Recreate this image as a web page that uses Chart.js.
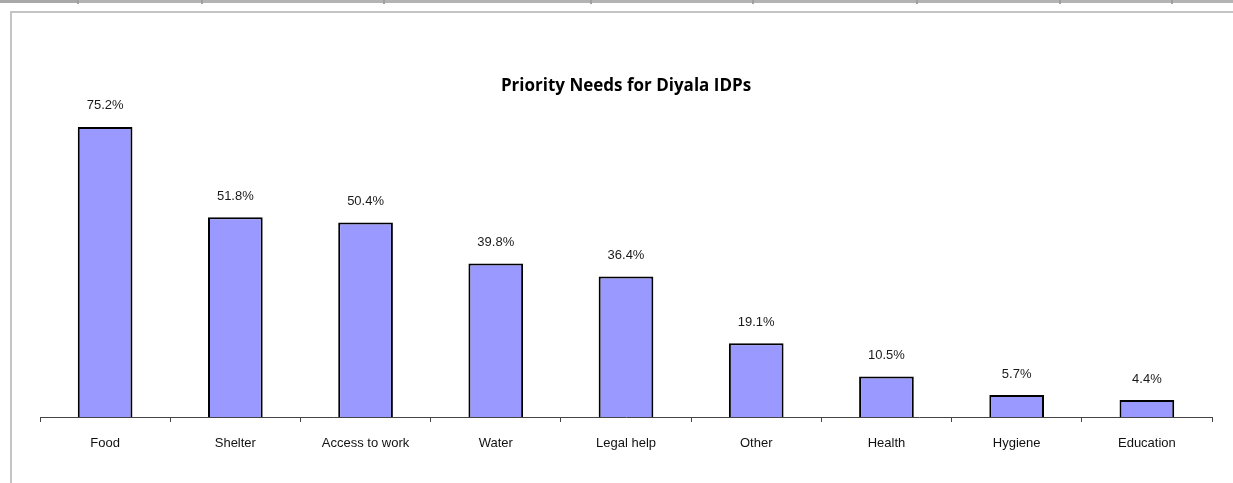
<!DOCTYPE html>
<html>
<head>
<meta charset="utf-8">
<script src="https://cdn.jsdelivr.net/npm/chart.js@4/dist/chart.umd.min.js"></script>
<style>
    html, body { margin: 0; padding: 0; background: #fff; }
    #page { position: relative; width: 1233px; height: 483px; overflow: hidden; background: #fff; }
    /* spreadsheet header strip */
    .hdr { position: absolute; top: 0; left: 0; width: 1233px; height: 3px; background: #b4b4b4; }
    .hdr-sel { position: absolute; top: 0; left: 0; width: 77px; height: 3px; background: #a8a8a8; }
    .sep { position: absolute; top: 0; width: 2px; height: 4px; background: #a0a0a0; }
    /* chart frame */
    #frame { position: absolute; left: 10px; top: 11px; width: 1240px; height: 500px;
             border-left: 2px solid #c4c4c4; border-top: 2px solid #c4c4c4; box-sizing: border-box; }
    #rankingChart { position: absolute; left: 0; top: 0; }
</style>
</head>
<body>
<div id="page">
    <div class="hdr"></div>
    <div class="hdr-sel"></div>
    <div class="sep" style="left:77px"></div>
    <div class="sep" style="left:201px"></div>
    <div class="sep" style="left:383px"></div>
    <div class="sep" style="left:590px"></div>
    <div class="sep" style="left:752px"></div>
    <div class="sep" style="left:916px"></div>
    <div class="sep" style="left:1059px"></div>
    <div class="sep" style="left:1171px"></div>
    <div id="frame"></div>
    <canvas id="rankingChart" width="1233" height="483"></canvas>
</div>
<script>
    // Dữ liệu biểu đồ
    var categories = ['Food', 'Shelter', 'Access to work', 'Water', 'Legal help', 'Other', 'Health', 'Hygiene', 'Education'];
    var needValues = [75.2, 51.8, 50.4, 39.8, 36.4, 19.1, 10.5, 5.7, 4.4];
    var chartTitle = 'Priority Needs for Diyala IDPs';

    // plugin nhỏ để vẽ nhãn giá trị trên mỗi cột
    var valueLabels = {
        id: 'valueLabels',
        afterDatasetsDraw: function (chart) {
            var ctx = chart.ctx;
            var meta = chart.getDatasetMeta(0);
            ctx.save();
            ctx.font = '13px "Liberation Sans", Arial, sans-serif';
            ctx.fillStyle = '#1a1a1a';
            ctx.textAlign = 'center';
            ctx.textBaseline = 'middle';
            meta.data.forEach(function (bar, i) {
                ctx.fillText(needValues[i].toFixed(1) + '%', bar.x, bar.y - 21);
            });
            ctx.restore();
        }
    };

    var canvas = document.getElementById('rankingChart');
    var ctx = canvas.getContext('2d');

    new Chart(ctx, {
        type: 'bar',
        data: {
            labels: categories,
            datasets: [{
                data: needValues,
                backgroundColor: '#9999ff',
                borderColor: '#000000',
                borderWidth: 2,
                barPercentage: 0.42,
                categoryPercentage: 1.0
            }]
        },
        options: {
            responsive: false,
            animation: false,
            layout: { padding: { left: 40, right: 21, top: 0, bottom: 26 } },
            plugins: {
                legend: { display: false },
                tooltip: { enabled: false },
                title: {
                    display: true,
                    text: chartTitle,
                    color: '#000',
                    font: { family: '"Open Sans", "Noto Sans", sans-serif', size: 17, weight: 'bold' },
                    padding: { top: 76, bottom: 12 }
                }
            },
            scales: {
                x: {
                    afterFit: function (scale) { scale.height = 40; },
                    border: { display: true, color: '#444444', width: 1 },
                    grid: { display: true, offset: true, drawOnChartArea: false, drawTicks: true, tickLength: 5, color: '#444444' },
                    ticks: { color: '#111', padding: 14, font: { family: '"Liberation Sans", Arial, sans-serif', size: 13 }, maxRotation: 0 }
                },
                y: {
                    display: false,
                    min: 0,
                    max: 80
                }
            }
        },
        plugins: [valueLabels]
    });
</script>
</body>
</html>
